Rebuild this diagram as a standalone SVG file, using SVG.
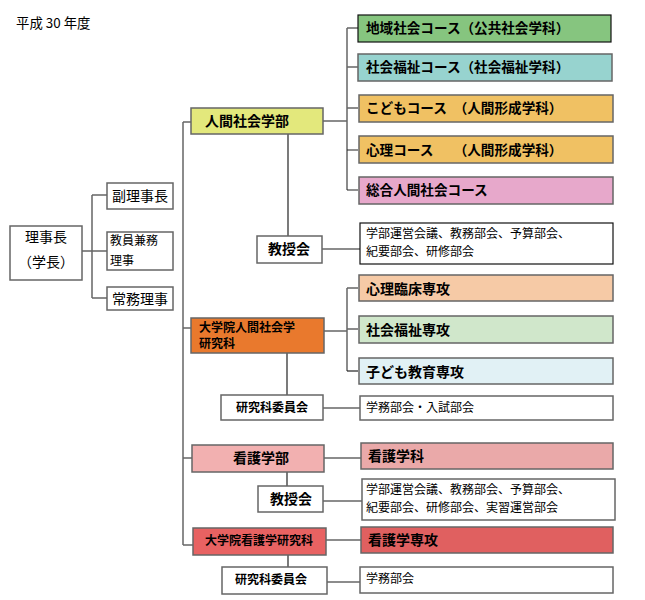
<svg xmlns="http://www.w3.org/2000/svg" width="645" height="600" viewBox="0 0 645 600">
<style>
text{font-family:"Noto Sans CJK JP","Noto Sans CJK SC",sans-serif;fill:#000}
.b{font-weight:bold}
.box{stroke:#666;stroke-width:1.5}
.blk{stroke:#111;stroke-width:1.2}
.ln{stroke:#666;stroke-width:1.5;fill:none}
.lnk{stroke:#222;stroke-width:1.2;fill:none}
.c{font-size:13.6px;font-weight:bold}
.s{font-size:12px}
</style>
<rect width="645" height="600" fill="#fff"/>
<text x="16" y="28" font-size="13.4">平成 30 年度</text>

<g id="connectors">
<path class="ln" d="M82,251 H92 M92,195 V298 M92,195 H107 M92,251 H107 M92,298 H107"/>
<path class="ln" d="M183,122 V545 M183,122 H191 M183,328 H191 M183,458 H192 M183,545 H193"/>
<path class="ln" d="M323,121 H347 M347,28 V190 M347,28 H358 M347,67 H358 M347,108 H358"/>
<path class="lnk" d="M347,150 H358 M347,190 H358"/>
<path class="lnk" d="M288,134 V236"/>
<path class="ln" d="M322,249 H360"/>
<path class="ln" d="M324,331 H347 M347,288 V371 M347,288 H358 M347,329 H358"/>
<path class="lnk" d="M347,371 H358"/>
<path class="lnk" d="M287,353 V395"/>
<path class="ln" d="M323,408 H360"/>
<path class="ln" d="M324,458 H361"/>
<path class="lnk" d="M287,472 V486"/>
<path class="ln" d="M323,501 H362"/>
<path class="ln" d="M326,540 H361"/>
<path class="lnk" d="M288,555 V567"/>
<path class="ln" d="M327,582 H360"/>
</g>

<g id="rijicho"><rect class="box" x="10" y="226" width="72" height="54" fill="#fff"/>
<text x="46" y="242" font-size="14" text-anchor="middle">理事長</text>
<text x="46" y="267" font-size="14" text-anchor="middle">（学長）</text></g>
<g id="fuku"><rect class="box" x="107" y="183" width="66" height="26" fill="#fff"/>
<text x="112" y="201" font-size="14">副理事長</text></g>
<g id="kyoin"><rect class="box" x="107" y="232" width="66" height="38" fill="#fff"/>
<text x="110" y="245" font-size="12">教員兼務</text>
<text x="110" y="265" font-size="12">理事</text></g>
<g id="jomu"><rect class="box" x="107" y="287" width="66" height="23" fill="#fff"/>
<text x="112" y="304" font-size="14">常務理事</text></g>

<g id="ningen"><rect class="box" x="191" y="108" width="132" height="26" fill="#e3e87c"/>
<text class="b" x="205" y="126" font-size="14">人間社会学部</text></g>
<g id="kyoju1"><rect class="box" x="257" y="236" width="65" height="27" fill="#fff"/>
<text class="b" x="289" y="254" font-size="14" text-anchor="middle">教授会</text></g>
<g id="daigakuin1"><rect class="box" x="191" y="318" width="133" height="35" fill="#e9792d"/>
<text class="b" x="199" y="332" font-size="12">大学院人間社会学</text>
<text class="b" x="199" y="348" font-size="12">研究科</text></g>
<g id="iinkai1"><rect class="box" x="221" y="395" width="102" height="25" fill="#fff"/>
<text class="b" x="272" y="412" font-size="12" text-anchor="middle">研究科委員会</text></g>
<g id="kango"><rect class="box" x="192" y="445" width="132" height="27" fill="#f2b0b0"/>
<text class="b" x="261" y="463" font-size="14" text-anchor="middle">看護学部</text></g>
<g id="kyoju2"><rect class="box" x="258" y="486" width="65" height="26" fill="#fff"/>
<text class="b" x="291" y="504" font-size="14" text-anchor="middle">教授会</text></g>
<g id="daigakuin2"><rect class="box" x="193" y="528" width="133" height="27" fill="#e86262"/>
<text class="b" x="259" y="545" font-size="12" text-anchor="middle">大学院看護学研究科</text></g>
<g id="iinkai2"><rect class="box" x="222" y="567" width="105" height="27" fill="#fff"/>
<text class="b" x="271" y="584" font-size="12" text-anchor="middle">研究科委員会</text></g>

<g id="chiiki"><rect class="blk" x="358" y="15" width="253" height="27" fill="#86c57f"/>
<text class="c" x="366" y="33">地域社会コース（公共社会学科）</text></g>
<g id="fukushi"><rect class="box" x="358" y="54" width="254" height="27" fill="#97d3cf"/>
<text class="c" x="366" y="72">社会福祉コース（社会福祉学科）</text></g>
<g id="kodomo"><rect class="box" x="359" y="95" width="254" height="27" fill="#f0c163"/>
<text class="c" x="366" y="113">こどもコース　（人間形成学科）</text></g>
<g id="shinri"><rect class="box" x="359" y="136" width="254" height="27" fill="#f0c163"/>
<text class="c" x="366" y="155">心理コース　　（人間形成学科）</text></g>
<g id="sogo"><rect class="box" x="359" y="177" width="254" height="27" fill="#e7a8cb"/>
<text class="c" x="366" y="195">総合人間社会コース</text></g>
<g id="bukai1"><rect class="blk" x="360" y="223" width="253" height="41" fill="#fff"/>
<text class="s" x="366" y="238">学部運営会議、教務部会、予算部会、</text>
<text class="s" x="366" y="256">紀要部会、研修部会</text></g>
<g id="rinsho"><rect class="box" x="359" y="275" width="254" height="26" fill="#f6caa6"/>
<text class="b" x="366" y="294" font-size="14">心理臨床専攻</text></g>
<g id="fukushisenko"><rect class="box" x="359" y="316" width="254" height="27" fill="#d0e7cb"/>
<text class="b" x="366" y="335" font-size="14">社会福祉専攻</text></g>
<g id="kyoiku"><rect class="box" x="359" y="358" width="254" height="26" fill="#e1f1f5"/>
<text class="b" x="366" y="377" font-size="14">子ども教育専攻</text></g>
<g id="gakumu1"><rect class="box" x="360" y="396" width="253" height="24" fill="#fff"/>
<text class="s" x="366" y="412">学務部会・入試部会</text></g>
<g id="kangogakka"><rect class="box" x="361" y="443" width="252" height="26" fill="#eaa9a9"/>
<text class="b" x="368" y="461" font-size="14">看護学科</text></g>
<g id="bukai2"><rect class="box" x="362" y="479" width="253" height="41" fill="#fff"/>
<text class="s" x="366" y="494">学部運営会議、教務部会、予算部会、</text>
<text class="s" x="366" y="512">紀要部会、研修部会、実習運営部会</text></g>
<g id="kangosenko"><rect class="box" x="361" y="527" width="252" height="26" fill="#e06060"/>
<text class="b" x="368" y="545" font-size="14">看護学専攻</text></g>
<g id="gakumu2"><rect class="box" x="360" y="567" width="253" height="26" fill="#fff"/>
<text class="s" x="366" y="583">学務部会</text></g>
</svg>
